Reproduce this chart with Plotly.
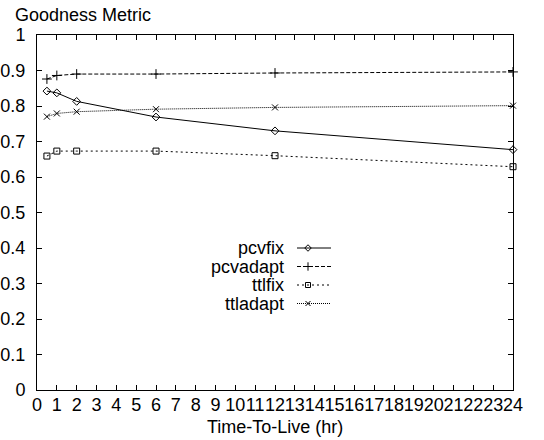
import plotly.graph_objects as go

# ---- data ----
ttl_hours = [0.5, 1, 2, 6, 12, 24]
pcvfix = [0.842, 0.837, 0.813, 0.769, 0.730, 0.677]
pcvadapt = [0.876, 0.886, 0.890, 0.890, 0.893, 0.896]
ttlfix = [0.659, 0.673, 0.673, 0.673, 0.660, 0.629]
ttladapt = [0.770, 0.779, 0.784, 0.791, 0.796, 0.801]
series_names = ["pcvfix", "pcvadapt", "ttlfix", "ttladapt"]
x_ticks = list(range(0, 25))
y_ticks = [round(i * 0.1, 1) for i in range(11)]
y_tick_labels = ["0", "0.1", "0.2", "0.3", "0.4", "0.5", "0.6", "0.7", "0.8", "0.9", "1"]

# ---- styles ----
FONT = "Liberation Sans, Arial, Helvetica, sans-serif"
FS = 18
styles = {
    "pcvfix": dict(dash="solid", symbol="diamond-open", size=6),
    "pcvadapt": dict(dash="4px,2px", symbol="cross-thin-open", size=7),
    "ttlfix": dict(dash="2px,3px", symbol="square-open", size=6),
    "ttladapt": dict(dash="1px,1px", symbol="x-thin-open", size=6),
}
values = {"pcvfix": pcvfix, "pcvadapt": pcvadapt, "ttlfix": ttlfix, "ttladapt": ttladapt}

W, H = 544, 440
L, R, T, B = 37, 31, 35, 50
PW, PH = W - L - R, H - T - B

fig = go.Figure()
for name in series_names:
    st = styles[name]
    fig.add_trace(go.Scatter(
        x=ttl_hours, y=values[name], mode="lines+markers", name=name,
        line=dict(color="black", width=1, dash=st["dash"]),
        marker=dict(symbol=st["symbol"], size=st["size"], color="black",
                    line=dict(color="black", width=1)),
        showlegend=False, cliponaxis=False,
    ))

# ---- custom legend (text left of key, like gnuplot) on a pixel-space overlay axis ----
leg_text_right = 286
leg_key_x0, leg_key_x1, leg_key_marker = 297, 331, 308
leg_row0, leg_row_step = 248, 18.5
for i, name in enumerate(series_names):
    st = styles[name]
    yy = leg_row0 + i * leg_row_step
    fig.add_trace(go.Scatter(
        x=[leg_key_x0, leg_key_x1], y=[yy, yy], mode="lines", xaxis="x2", yaxis="y2",
        line=dict(color="black", width=1, dash=st["dash"]), showlegend=False, hoverinfo="skip"))
    fig.add_trace(go.Scatter(
        x=[leg_key_marker], y=[yy], mode="markers", xaxis="x2", yaxis="y2",
        marker=dict(symbol=st["symbol"], size=st["size"] - 1, color="black",
                    line=dict(color="black", width=1)),
        showlegend=False, hoverinfo="skip"))
    fig.add_annotation(x=leg_text_right, y=yy, xref="x2", yref="y2", text=name,
                       showarrow=False, xanchor="right", yanchor="middle",
                       font=dict(family=FONT, size=FS, color="black"))

axis_common = dict(showgrid=False, zeroline=False, showline=True, linecolor="black",
                   linewidth=1, mirror="ticks", ticks="inside", ticklen=5, tickwidth=1,
                   tickcolor="black", automargin=False,
                   tickfont=dict(family=FONT, size=FS, color="black"))

fig.update_layout(
    width=W, height=H,
    margin=dict(l=L, r=R, t=T, b=B),
    paper_bgcolor="white", plot_bgcolor="white",
    xaxis=dict(range=[0, 24], tickvals=x_ticks, ticktext=[str(v) for v in x_ticks],
               tickangle=0, ticklabelstandoff=-2, **axis_common),
    yaxis=dict(range=[0, 1], tickvals=y_ticks, ticktext=y_tick_labels,
               ticklabelstandoff=7, **axis_common),
    xaxis2=dict(overlaying="x", range=[L, W - R], visible=False),
    yaxis2=dict(overlaying="y", range=[H - B, T], visible=False),
    showlegend=False,
)
# y-axis title (gnuplot style, top-left)
fig.add_annotation(x=(13 - L) / PW, y=1, xref="paper", yref="paper",
                   text="Goodness Metric", showarrow=False, xanchor="left", yanchor="bottom",
                   yshift=8, font=dict(family=FONT, size=FS, color="black"))
# x-axis title
fig.add_annotation(x=0.5, y=(H - B - 427) / PH, xref="paper", yref="paper",
                   text="Time-To-Live (hr)", showarrow=False, xanchor="center", yanchor="middle",
                   font=dict(family=FONT, size=FS, color="black"))

fig.write_html("out.html")
